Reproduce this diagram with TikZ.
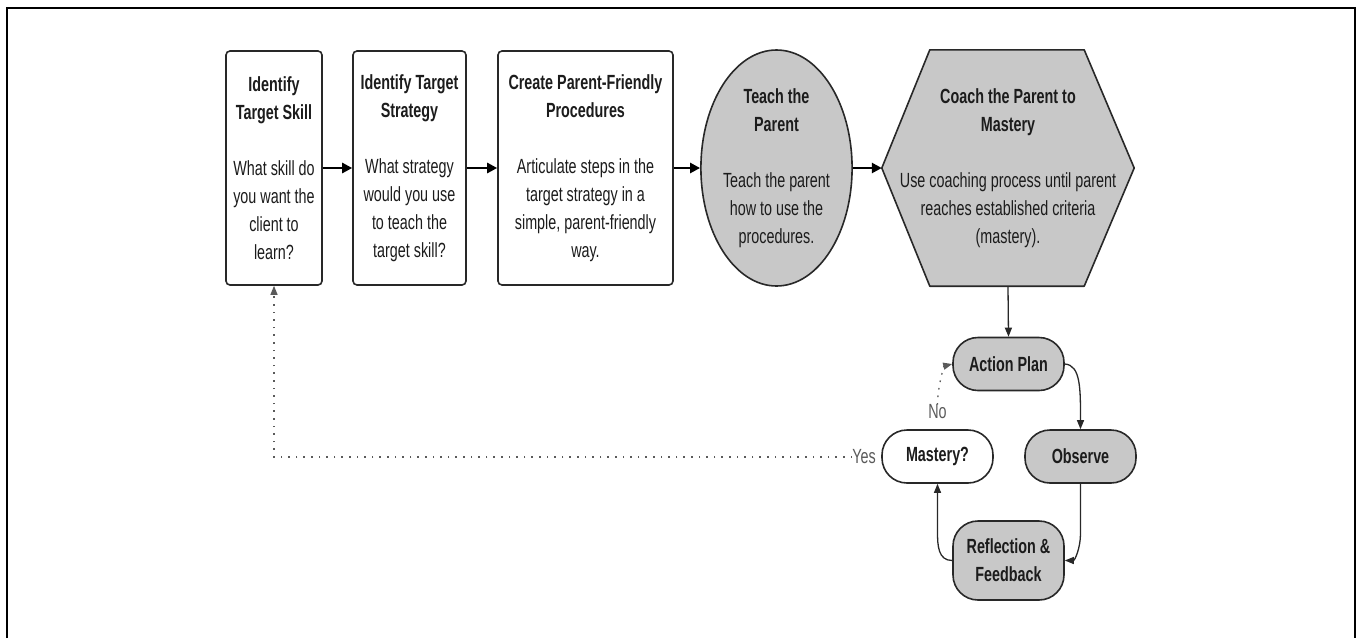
\documentclass[tikz,border=0pt]{standalone}
\usepackage{fontspec}
\setmainfont{Liberation Sans}[FakeStretch=0.7]
\usetikzlibrary{arrows.meta,shapes.geometric,backgrounds,calc}
\definecolor{fillg}{RGB}{200,200,200}
\definecolor{edge}{RGB}{40,40,40}
\definecolor{txt}{RGB}{28,28,28}
\definecolor{dotc}{RGB}{90,90,90}
\begin{document}
\begin{tikzpicture}[x=1pt,y=-1pt,
  every node/.style={font=\fontsize{20.5}{28}\selectfont, text=txt, align=center, inner sep=0pt},
  stepbox/.style={draw=edge, line width=1.6pt, rounded corners=4pt, fill=white, minimum height=234pt},
  ellbox/.style={ellipse, draw=edge, line width=1.6pt, fill=fillg, minimum width=143pt, minimum height=236pt},
  hexbox/.style={minimum width=252pt, minimum height=236pt},
  stad/.style={draw=edge, line width=1.6pt, rounded corners=25pt, fill=fillg, minimum width=111pt, minimum height=53pt},
  bigarrow/.style={draw=black, line width=2.6pt, -{Triangle[length=10pt,width=10pt]}},
  thinarrow/.style={draw=edge, line width=1.3pt, -{Triangle[length=9pt,width=7pt]}},
  dotline/.style={draw=dotc, line width=1.3pt, dash pattern=on 1.6pt off 6pt, -{Triangle[length=9pt,width=7pt]}},
  lbl/.style={text=dotc}
]
\useasboundingbox (0,0) rectangle (1361,638);
% outer frame
\draw[line width=2pt, black] (7,638) -- (7,8) -- (1355,8) -- (1355,638);

\node[stepbox, minimum width=96pt] (b1) at (274,168)
  {\textbf{Identify}\\\textbf{Target Skill}\\[28pt]What skill do\\you want the\\client to\\learn?};
\node[stepbox, minimum width=113pt] (b2) at (409.5,168)
  {\textbf{Identify Target}\\\textbf{Strategy}\\[28pt]What strategy\\would you use\\to teach the\\target skill?};
\node[stepbox, minimum width=175pt] (b3) at (585.5,168)
  {\textbf{Create Parent-Friendly}\\\textbf{Procedures}\\[28pt]Articulate steps in the\\target strategy in a\\simple, parent-friendly\\way.};
\node[ellbox] (ell) at (776.5,168)
  {\textbf{Teach the}\\\textbf{Parent}\\[28pt]Teach the parent\\how to use the\\procedures.};
\node[hexbox] (hex) at (1008,168)
  {\textbf{Coach the Parent to}\\\textbf{Mastery}\\[28pt]Use coaching process until parent\\reaches established criteria\\(mastery).};
\begin{scope}[on background layer]
  \draw[draw=edge, line width=1.6pt, fill=fillg, line join=round]
    (hex.west) -- ([xshift=48pt]hex.north west) -- ([xshift=-50pt]hex.north east)
    -- (hex.east) -- ([xshift=-50pt]hex.south east) -- ([xshift=48pt]hex.south west) -- cycle;
\end{scope}

\node[stad] (ap) at (1008.5,364) {\textbf{Action Plan}};
\node[stad] (obs) at (1080.5,456.5) {\textbf{Observe}};
\node[stad, fill=white] (mas) at (937.5,456.5) {\textbf{Mastery?}};
\node[stad, minimum height=79pt] (refl) at (1008.5,560.5) {\textbf{Reflection \&}\\\textbf{Feedback}};
\node[lbl] (no) at (937.5,412) {No};
\node[lbl, anchor=east] (yes) at (876,457) {Yes};

\draw[bigarrow] (b1) -- (b2);
\draw[bigarrow] (b2) -- (b3);
\draw[bigarrow] (b3) -- (ell);
\draw[bigarrow] (ell) -- (hex.west);
\draw[thinarrow] (hex.south) -- (ap.north);
\draw[thinarrow] (ap.east) .. controls +(16,1) and +(0,-40) .. (obs.north);
\draw[thinarrow] (obs.south) -- ++(0,50) .. controls +(0,14) and +(10,0) .. (refl.east);
\draw[thinarrow] (refl.west) .. controls +(-14,0) and +(0,14) .. ($(mas.south)+(0,48)$) -- (mas.south);
\draw[dotline] (no.north) .. controls +(0,-18) and +(-8,2) .. (ap.west);
\draw[dotline] (yes.west) -| (b1.south);
\end{tikzpicture}
\end{document}
